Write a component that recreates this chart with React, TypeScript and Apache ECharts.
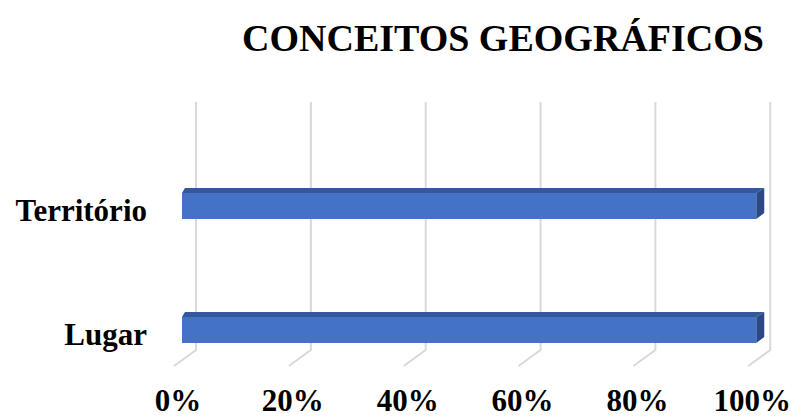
import React, { useEffect, useRef } from "react";
import * as echarts from "echarts";

const titleText = "CONCEITOS GEOGRÁFICOS";
const categories = ["Lugar", "Território"];
const values = [100, 100];
const tickValues = [0, 20, 40, 60, 80, 100];

const FONT = "'Liberation Serif', 'Times New Roman', serif";

export default function App() {
  const ref = useRef<HTMLDivElement>(null);
  useEffect(() => {
    if (!ref.current) return;
    const chart = echarts.init(ref.current, null, { renderer: "svg" });
    chart.setOption({
      animation: false,
      backgroundColor: "#ffffff",
      title: {
        text: titleText,
        left: 242,
        top: 19,
        padding: 0,
        textStyle: { fontFamily: FONT, fontWeight: "bold", fontSize: 38, color: "#000000" },
      },
      grid: { left: 178, right: 39, top: 148.5, bottom: 20.5, containLabel: false },
      xAxis: {
        type: "value",
        min: 0,
        max: 100,
        interval: 20,
        axisLine: { show: false },
        axisTick: { show: false },
        splitLine: { show: false },
        axisLabel: {
          formatter: "{value}%",
          margin: -11.5,
          lineHeight: 30,
          fontFamily: FONT,
          fontWeight: "bold",
          fontSize: 31,
          color: "#000000",
        },
      },
      yAxis: {
        type: "category",
        data: categories,
        axisLine: { show: false },
        axisTick: { show: false },
        splitLine: { show: false },
        axisLabel: {
          margin: 31,
          fontFamily: FONT,
          fontWeight: "bold",
          fontSize: 31,
          color: "#000000",
        },
      },
      series: [
        {
          type: "custom",
          name: "grid",
          silent: true,
          z: 1,
          data: tickValues.map((v) => [v, 0]),
          renderItem: (params: any, api: any) => {
            const cs = params.coordSys;
            const x = api.coord([api.value(0), 0])[0];
            const top = cs.y - 46.5;
            const bot = cs.y + cs.height - 46.5;
            return {
              type: "polyline",
              shape: {
                points: [
                  [x + 18, top],
                  [x + 18, bot],
                  [x - 4, cs.y + cs.height - 30.5],
                ],
              },
              style: { stroke: "#D9D9D9", lineWidth: 2, fill: "none" },
            };
          },
        },
        {
          type: "custom",
          name: "bars",
          z: 2,
          data: values.map((v, i) => [v, i]),
          renderItem: (params: any, api: any) => {
            const val = api.value(0);
            const cat = api.value(1);
            const p0 = api.coord([0, cat]);
            const p1 = api.coord([val, cat]);
            const x0 = p0[0] + 4;
            const x1 = p1[0] + 4;
            const yc = p1[1] - 4.5;
            const yt = yc - 13;
            const yb = yc + 13;
            return {
              type: "group",
              children: [
                {
                  type: "polygon",
                  shape: { points: [[x0, yt], [x0 + 3, yt - 5], [x1 + 8, yt - 5], [x1, yt]] },
                  style: { fill: "#34589B" },
                },
                {
                  type: "polygon",
                  shape: { points: [[x1, yt], [x1 + 8, yt - 5], [x1 + 8, yb - 6], [x1, yb]] },
                  style: { fill: "#2B4A85" },
                },
                {
                  type: "rect",
                  shape: { x: x0, y: yt, width: x1 - x0, height: yb - yt },
                  style: { fill: "#4472C4" },
                },
              ],
            };
          },
        },
      ],
    });
    return () => chart.dispose();
  }, []);
  return <div ref={ref} style={{ width: 794, height: 417, position: "absolute", left: 0, top: 0 }} />;
}
